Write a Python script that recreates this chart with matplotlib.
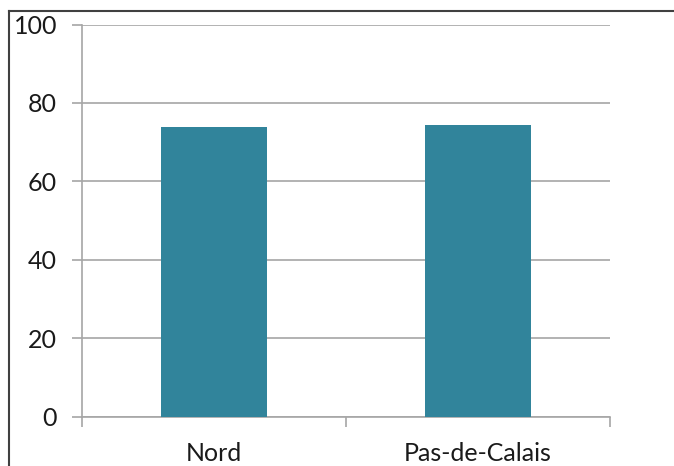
import matplotlib
matplotlib.use("Agg")
import matplotlib.pyplot as plt
from matplotlib.lines import Line2D

# Data
categories = ["Nord", "Pas-de-Calais"]
values = [73.8, 74.4]
y_ticks = [0, 20, 40, 60, 80, 100]

bar_color = "#31849B"
grid_color = "#A6A6A6"
font = ["Lato", "DejaVu Sans"]

fig = plt.figure(figsize=(6.74, 4.66), dpi=100)
ax = fig.add_axes([82 / 674, 1 - 416.5 / 466, (610 - 82) / 674, (416.5 - 24.5) / 466])

x = list(range(len(categories)))
ax.bar(x, values, width=0.40, color=bar_color, zorder=3)

ax.set_xlim(-0.5, len(categories) - 0.5)
ax.set_ylim(0, 100)

# Y axis: gridlines and outward ticks
ax.set_yticks(y_ticks)
ax.set_yticklabels([str(v) for v in y_ticks], fontsize=18, family=font, color="#1a1a1a")
ax.yaxis.grid(True, color=grid_color, linewidth=1.2, zorder=0)
ax.tick_params(axis="y", length=7, width=1.2, color=grid_color, pad=11)

# X axis: ticks at category boundaries, labels between them
ax.set_xticks([i - 0.5 for i in range(len(categories) + 1)])
ax.set_xticklabels([""] * (len(categories) + 1))
ax.tick_params(axis="x", which="major", length=7, width=1.2, color=grid_color)
ax.set_xticks(x, minor=True)
ax.set_xticklabels(categories, minor=True, fontsize=18, family=font, color="#1a1a1a")
ax.tick_params(axis="x", which="minor", length=0, pad=18.5)

for side in ["top", "right"]:
    ax.spines[side].set_visible(False)
for side in ["left", "bottom"]:
    ax.spines[side].set_color(grid_color)
    ax.spines[side].set_linewidth(1.2)

# Outer frame: top and left edges
fig.add_artist(Line2D([9 / 674, 1.0], [1 - 11 / 466, 1 - 11 / 466], color="#404040", linewidth=1.5,
                      transform=fig.transFigure))
fig.add_artist(Line2D([9 / 674, 9 / 674], [0.0, 1 - 11 / 466], color="#404040", linewidth=1.5,
                      transform=fig.transFigure))

fig.savefig("out.png", dpi=100)
